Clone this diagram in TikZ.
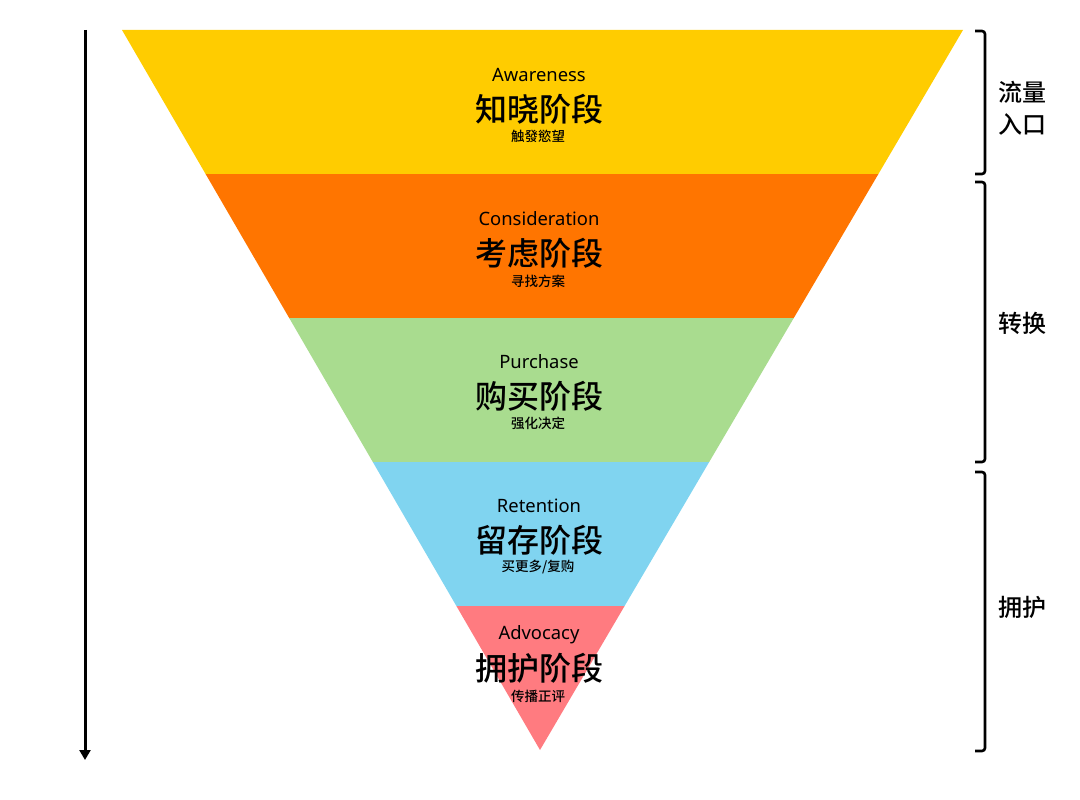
\documentclass[tikz,border=0pt]{standalone}
\usepackage{fontspec}
\setmainfont{Noto Sans}
\newfontfamily\cjk{Noto Sans CJK SC}
\newfontfamily\cjkm{Noto Sans CJK SC Medium}
\usetikzlibrary{arrows.meta}
\definecolor{cA}{HTML}{FFCC00}
\definecolor{cB}{HTML}{FF7500}
\definecolor{cC}{HTML}{A9DC8F}
\definecolor{cD}{HTML}{80D4F0}
\definecolor{cE}{HTML}{FF7B80}
\tikzset{
  en/.style={font=\fontsize{18.4}{20}\selectfont, inner sep=0pt, anchor=center},
  zh/.style={font=\cjkm\fontsize{32}{34}\selectfont, inner sep=0pt, anchor=center},
  sm/.style={font=\cjkm\fontsize{13.5}{15}\selectfont, inner sep=0pt, anchor=center},
  side/.style={font=\cjkm\fontsize{24}{32}\selectfont, inner sep=0pt, anchor=west, align=left},
  brk/.style={line width=2.6pt, rounded corners=3pt},
}
\begin{document}
\begin{tikzpicture}[x=1pt,y=-1pt]
\useasboundingbox (0,0) rectangle (1080,800);
% funnel bands
\fill[cA] (122,30) -- (963,30) -- (878.4,174) -- (205.6,174) -- cycle;
\fill[cB] (205.6,174) -- (878.4,174) -- (793.8,318) -- (289.2,318) -- cycle;
\fill[cC] (289.2,318) -- (793.8,318) -- (709.2,462) -- (372.8,462) -- cycle;
\fill[cD] (372.8,462) -- (709.2,462) -- (624.6,606) -- (456.4,606) -- cycle;
\fill[cE] (456.4,606) -- (624.6,606) -- (540,750) -- cycle;
% texts
\node[en] (a1) at (539,75) {Awareness};
\node[zh] (a2) at (539,109) {知晓阶段};
\node[sm] (a3) at (538,136) {触發慾望};
\node[en] (b1) at (539,219) {Consideration};
\node[zh] (b2) at (539,253) {考虑阶段};
\node[sm] (b3) at (538,281) {寻找方案};
\node[en] (c1) at (539,362) {Purchase};
\node[zh] (c2) at (539,396) {购买阶段};
\node[sm] (c3) at (538,423) {强化决定};
\node[en] (d1) at (539,506) {Retention};
\node[zh] (d2) at (539,540) {留存阶段};
\node[sm] (d3) at (538,567) {买更多/复购};
\node[en] (e1) at (539,635) {Advocacy};
\node[zh] (e2) at (539,668) {拥护阶段};
\node[sm] (e3) at (538,696) {传播正评};
% left arrow
\coordinate (ls) at (85,30);
\coordinate (le) at (85,760);
\draw[line width=3pt, -{Triangle[length=10pt,width=11pt]}] (ls) -- (le);
% brackets
\coordinate (p1) at (975,31);
\coordinate (p2) at (975,174);
\coordinate (q1) at (975,182);
\coordinate (q2) at (975,462);
\coordinate (r1) at (975,472);
\coordinate (r2) at (975,751);
\draw[brk] (p1) -- ++(10,0) |- (p2);
\draw[brk] (q1) -- ++(10,0) |- (q2);
\draw[brk] (r1) -- ++(10,0) |- (r2);
\node[side] (s1) at (998,108) {流量\\入口};
\node[side] (s2) at (998,323) {转换};
\node[side] (s3) at (998,607) {拥护};
\end{tikzpicture}
\end{document}
